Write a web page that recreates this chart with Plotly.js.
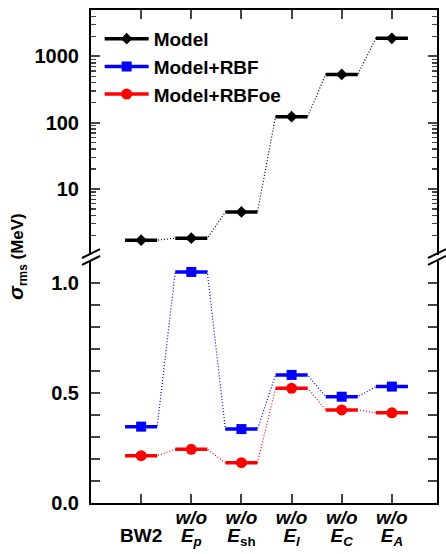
<!DOCTYPE html>
<html>
<head>
<meta charset="utf-8">
<script src="https://cdn.plot.ly/plotly-3.0.1.min.js"></script>
<style>html,body{margin:0;padding:0;background:#fff;}#chart{width:446px;height:554px;}</style>
</head>
<body>
<div id="chart"></div>
<script>
// ---- data ----
var categories = ['BW2', 'w/o Ep', 'w/o Esh', 'w/o El', 'w/o EC', 'w/o EA'];
var tickTop = ['', '<i>w/o</i>', '<i>w/o</i>', '<i>w/o</i>', '<i>w/o</i>', '<i>w/o</i>'];
var tickBottom = ['BW2', '<i>E</i><sub><i>p</i></sub>', '<i>E</i><sub>sh</sub>', '<i>E</i><sub><i>l</i></sub>', '<i>E</i><sub><i>C</i></sub>', '<i>E</i><sub><i>A</i></sub>'];
var modelVals = [1.69, 1.81, 4.5, 123, 533, 1870];
var rbfVals = [0.347, 1.05, 0.336, 0.582, 0.483, 0.529];
var rbfoeVals = [0.215, 0.244, 0.183, 0.521, 0.423, 0.410];

var HW = 0.32; // half width of horizontal bar (category units)
var idx = categories.map(function (c, i) { return i; });

function dottedTrace(vals, color, xa, ya) {
  var x = [], y = [];
  vals.forEach(function (v, i) { x.push(i - HW, i + HW); y.push(v, v); });
  return { x: x, y: y, xaxis: xa, yaxis: ya, mode: 'lines', showlegend: false, hoverinfo: 'skip',
           line: { color: color, width: 1.2, dash: '1px,2px' } };
}
function markTrace(vals, name, color, symbol, size, xa, ya) {
  var x = [], y = [];
  vals.forEach(function (v, i) { x.push(i); y.push(v); if (i < vals.length - 1) { x.push(i + 0.5); y.push(null); } });
  return { x: x, y: y, xaxis: xa, yaxis: ya, name: name, mode: 'lines+markers', connectgaps: false,
           line: { color: color, width: 3.5 },
           marker: { color: color, symbol: symbol, size: size },
           error_x: { type: 'constant', value: HW, width: 0, thickness: 3.5, color: color } };
}

var traces = [
  dottedTrace(modelVals, '#000000', 'x2', 'y2'),
  dottedTrace(rbfVals, '#0000ff', 'x', 'y'),
  dottedTrace(rbfoeVals, '#ff0000', 'x', 'y'),
  markTrace(modelVals, 'Model', '#000000', 'diamond', 9, 'x2', 'y2'),
  markTrace(rbfVals, 'Model+RBF', '#0000ff', 'square', 10, 'x', 'y'),
  markTrace(rbfoeVals, 'Model+RBFoe', '#ff0000', 'circle', 11, 'x', 'y'),
  // carrier for the second line of category labels
  { x: idx, y: idx.map(function () { return null; }), xaxis: 'x3', yaxis: 'y', mode: 'markers',
    showlegend: false, hoverinfo: 'skip', marker: { opacity: 0 } }
];

var FONT = 'Liberation Sans, Arial, sans-serif';
var xr = [-1.0, 5.9];
function slash(xc, yc) {
  return { type: 'line', xref: 'paper', yref: 'paper', x0: xc - 0.026, x1: xc + 0.026, y0: yc - 0.009, y1: yc + 0.009,
           line: { color: '#000', width: 2 } };
}
var brk = [slash(0, 0.506), slash(0, 0.492), slash(1, 0.506), slash(1, 0.492)];

var layout = {
  width: 446, height: 554,
  margin: { l: 91, r: 9, t: 10, b: 51 },
  paper_bgcolor: '#fff', plot_bgcolor: '#fff',
  font: { family: FONT, size: 20, color: '#000', weight: 'bold' },
  showlegend: true,
  legend: { x: 0.025, y: 0.98, xanchor: 'left', yanchor: 'top', bgcolor: 'rgba(0,0,0,0)',
            font: { family: FONT, size: 19, weight: 'bold' }, itemwidth: 44, tracegroupgap: 0 },
  xaxis: { domain: [0, 1], anchor: 'y', range: xr, showgrid: false, zeroline: false,
           showline: true, linewidth: 2, linecolor: '#000', ticks: 'inside', ticklen: 9, tickwidth: 2,
           tickmode: 'array', tickvals: idx, ticktext: tickTop, ticklabelstandoff: -4,
           tickfont: { size: 19 } },
  xaxis3: { overlaying: 'x', anchor: 'y', side: 'bottom', range: xr, showgrid: false, zeroline: false,
            showline: false, ticks: '', tickmode: 'array', tickvals: idx, ticktext: tickBottom, ticklabelstandoff: 19,
            tickfont: { size: 19 } },
  xaxis2: { domain: [0, 1], anchor: 'y2', side: 'top', range: xr, showgrid: false, zeroline: false,
            showline: true, linewidth: 2, linecolor: '#000', ticks: 'inside', ticklen: 9, tickwidth: 2,
            tickmode: 'array', tickvals: idx, showticklabels: false },
  yaxis: { domain: [0, 0.491], anchor: 'x', range: [0, 1.1], showgrid: false, zeroline: false,
           showline: true, linewidth: 2, linecolor: '#000', mirror: 'allticks',
           ticks: 'inside', ticklen: 9, tickwidth: 2, tickmode: 'linear', tick0: 0, dtick: 0.5, tickformat: '.1f',
           ticklabelstandoff: 6,
           minor: { dtick: 0.1, ticks: 'inside', ticklen: 5, tickwidth: 1.5, showgrid: false } },
  yaxis2: { domain: [0.503, 1], anchor: 'x2', type: 'log', range: [0.004, Math.log10(5000)], showgrid: false, zeroline: false,
            showline: true, linewidth: 2, linecolor: '#000', mirror: 'allticks',
            ticks: 'inside', ticklen: 9, tickwidth: 2, dtick: 1, exponentformat: 'none',
            ticklabelstandoff: 6,
            minor: { dtick: 'D1', ticks: 'inside', ticklen: 5, tickwidth: 1.5, showgrid: false } },
  shapes: brk,
  annotations: [{
    xref: 'paper', yref: 'paper', x: 0, y: 0.499, xshift: -74, textangle: -90, showarrow: false,
    xanchor: 'center', yanchor: 'middle',
    text: '<span style="font-size:21px"><i>σ</i></span><sub>rms</sub> (MeV)', font: { family: FONT, size: 17, weight: 'bold' }
  }]
};

Plotly.newPlot('chart', traces, layout, { displayModeBar: false, staticPlot: true });
</script>
</body>
</html>
